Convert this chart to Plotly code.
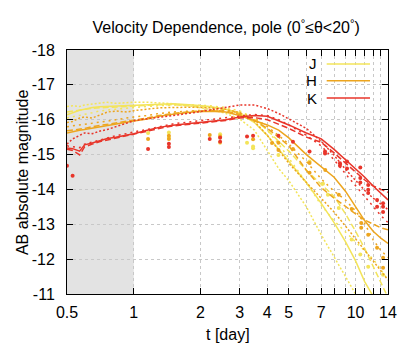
import plotly.graph_objects as go

# ---------------- data ----------------
T = [0.5, 0.53, 0.57, 0.6, 0.65, 0.7, 0.76, 0.83, 0.93, 1.0, 1.15, 1.3, 1.5, 1.85, 2.2,
     2.6, 3.0, 3.5, 4.0, 4.5, 5.0, 6.0, 7.0, 8.0, 9.0, 10.0, 11.0, 12.0, 13.0, 14.0]

J_solid = [-16.14, -16.2, -16.27, -16.3, -16.35, -16.37, -16.38, -16.4, -16.41, -16.42, -16.44, -16.46, -16.46, -16.42, -16.38,
           -16.3, -16.18, -15.92, -15.55, -15.15, -14.8, -14.2, -13.6, -13.05, -12.5, -11.95, -11.35, -10.9, -10.5, -10.2]
J_dotA = [-16.38, -16.4, -16.38, -16.42, -16.45, -16.47, -16.5, -16.47, -16.5, -16.5, -16.5, -16.49, -16.46, -16.38, -16.3,
          -16.18, -16.02, -15.7, -15.1, -14.6, -14.25, -13.5, -12.7, -12.05, -11.5, -11.0, -10.6, -10.3, -10.0, -9.8]
J_dash = [-16.22, -16.25, -16.28, -16.3, -16.33, -16.34, -16.36, -16.38, -16.4, -16.4, -16.42, -16.43, -16.43, -16.4, -16.36,
          -16.3, -16.2, -16.0, -15.7, -15.38, -15.1, -14.55, -14.15, -13.8, -13.3, -12.8, -12.3, -11.8, -11.3, -10.9]
J_dotB = [-16.05, -16.08, -16.12, -16.15, -16.2, -16.25, -16.28, -16.3, -16.33, -16.35, -16.38, -16.4, -16.42, -16.42, -16.4,
          -16.35, -16.25, -16.05, -15.7, -15.3, -14.9, -14.2, -13.55, -13.1, -12.78, -12.5, -12.25, -12.0, -11.7, -11.4]

H_solid = [-15.62, -15.66, -15.7, -15.72, -15.76, -15.8, -15.84, -15.88, -15.93, -15.96, -16.02, -16.1, -16.16, -16.22, -16.24,
           -16.22, -16.12, -15.98, -15.85, -15.7, -15.48, -15.0, -14.65, -14.35, -13.95, -13.5, -13.1, -12.8, -12.6, -12.45]
H_dash = [-15.68, -15.7, -15.72, -15.75, -15.8, -15.83, -15.86, -15.9, -15.95, -15.99, -16.05, -16.12, -16.18, -16.24, -16.26,
          -16.25, -16.15, -15.98, -15.75, -15.5, -15.25, -14.55, -14.05, -13.75, -13.5, -13.3, -13.12, -13.0, -12.9, -12.84]
H_dotA = [-15.92, -15.95, -16.05, -16.08, -16.05, -16.12, -16.22, -16.25, -16.22, -16.26, -16.3, -16.34, -16.35, -16.36, -16.34,
          -16.3, -16.2, -15.95, -15.55, -15.12, -14.75, -14.2, -13.75, -13.35, -12.95, -12.6, -12.25, -11.95, -11.65, -11.4]
H_dotB = [-15.8, -15.82, -15.85, -15.88, -15.9, -15.93, -15.96, -16.0, -16.05, -16.08, -16.12, -16.18, -16.22, -16.26, -16.28,
          -16.27, -16.2, -16.05, -15.8, -15.55, -15.3, -14.8, -14.3, -13.95, -13.7, -13.38, -13.02, -12.55, -12.25, -12.05]

K_solid = [-15.19, -15.17, -15.1, -15.28, -15.33, -15.4, -15.46, -15.5, -15.56, -15.6, -15.7, -15.78, -15.84, -15.9, -15.95,
           -16.0, -16.08, -16.12, -16.1, -15.98, -15.85, -15.62, -15.45, -15.15, -14.85, -14.6, -14.35, -14.1, -13.9, -13.7]
K_dash = [-15.15, -15.12, -14.99, -15.22, -15.3, -15.37, -15.42, -15.47, -15.53, -15.57, -15.67, -15.75, -15.82, -15.88, -15.93,
          -15.98, -16.05, -16.06, -16.0, -15.88, -15.75, -15.5, -15.35, -15.05, -14.75, -14.5, -14.27, -14.1, -14.0, -13.92]
K_dotA = [-15.3, -15.45, -15.55, -15.62, -15.6, -15.67, -15.72, -15.8, -15.9, -15.97, -16.03, -16.08, -16.12, -16.2, -16.28,
          -16.36, -16.42, -16.42, -16.32, -16.18, -16.02, -15.75, -15.38, -14.98, -14.58, -14.25, -13.97, -13.75, -13.58, -13.42]
K_dotB = [-15.25, -15.22, -15.2, -15.3, -15.36, -15.42, -15.48, -15.54, -15.6, -15.65, -15.72, -15.8, -15.88, -15.95, -16.0,
          -16.05, -16.1, -16.15, -16.12, -16.0, -15.85, -15.55, -15.25, -14.85, -14.45, -14.1, -13.8, -13.5, -13.25, -13.05]

J_obs_t = [1.16, 1.44, 1.44, 2.45, 2.45, 3.24, 3.45, 3.45, 4.49, 6.2, 7.13, 7.5, 8.4, 9.6, 10.5, 11.4, 13.3]
J_obs_m = [-15.62, -15.63, -15.48, -15.58, -15.34, -15.34, -15.23, -15.18, -14.99, -14.8, -14.16, -13.85, -13.47, -12.56, -12.13, -11.78, -11.55]

H_obs_t = [1.16, 1.44, 1.44, 2.2, 2.45, 3.45, 4.2, 4.49, 4.49, 5.22, 6.2, 6.2, 7.3, 8.4, 9.6, 10.6, 10.6, 11.4, 12.5, 13.3, 13.3]
H_obs_m = [-15.45, -15.54, -15.45, -15.56, -15.52, -15.44, -15.33, -15.34, -15.13, -15.16, -14.76, -14.48, -14.56, -13.85, -13.44, -13.04, -12.9, -12.7, -12.33, -12.04, -11.75]

K_obs_t = [0.5, 0.53, 1.16, 1.44, 1.44, 2.2, 2.45, 2.45, 3.24, 3.45, 4.49, 5.22, 6.2, 7.28, 7.28, 8.5, 8.5, 9.15, 9.15,
           10.5, 10.5, 10.5, 11.4, 11.4, 11.4, 12.5, 12.5, 13.3, 13.3, 13.3]
K_obs_m = [-14.68, -14.39, -15.16, -15.31, -15.22, -15.45, -15.48, -15.37, -15.52, -15.54, -15.54, -15.37, -15.09, -15.09, -15.03,
           -14.75, -14.68, -14.8, -14.6, -14.63, -14.33, -14.2, -14.13, -13.99, -13.9, -13.7, -13.5, -13.6, -13.35, -13.5]

x_tickvals = [0.5, 1, 2, 3, 4, 5, 6, 7, 8, 9, 10, 11, 12, 13, 14]
x_ticktext = ["0.5", "1", "2", "3", "4", "5", "", "7", "", "", "10", "", "", "", "14"]
y_tickvals = [-18, -17, -16, -15, -14, -13, -12, -11]
y_ticktext = ["-18", "-17", "-16", "-15", "-14", "-13", "-12", "-11"]

band_names = ["J", "H", "K"]
band_colors = ["#f3e45a", "#eda51e", "#e8352a"]
# ---------------------------------------

FONT = "Liberation Sans, Arial, sans-serif"
dash_styles = {"solid": "solid", "dash": "6px,3px", "dotA": "2px,2px", "dotB": "2px,4px"}

fig = go.Figure()

band_lines = [
    [("dotB", J_dotB), ("dash", J_dash), ("solid", J_solid), ("dotA", J_dotA)],
    [("dotB", H_dotB), ("dash", H_dash), ("solid", H_solid), ("dotA", H_dotA)],
    [("dotB", K_dotB), ("dash", K_dash), ("solid", K_solid), ("dotA", K_dotA)],
]
band_obs = [(J_obs_t, J_obs_m), (H_obs_t, H_obs_m), (K_obs_t, K_obs_m)]

for name, color, lines, (ot, om) in zip(band_names, band_colors, band_lines, band_obs):
    for style, vals in lines:
        fig.add_trace(go.Scatter(x=T, y=vals, mode="lines",
                                 line=dict(color=color, width=1.5, dash=dash_styles[style]),
                                 showlegend=False, hoverinfo="skip"))
    fig.add_trace(go.Scatter(x=ot, y=om, mode="markers",
                             marker=dict(color=color, size=4, line=dict(width=0)),
                             showlegend=False, hoverinfo="skip"))

# shaded early-time region
fig.add_shape(type="rect", xref="x", yref="paper", x0=0.5, x1=1, y0=0, y1=1,
              fillcolor="#e3e3e3", line=dict(width=0), layer="between")

# manual legend (label left, line sample right)
leg_y = [0.943, 0.874, 0.803]
for name, color, yy in zip(band_names, band_colors, leg_y):
    fig.add_annotation(xref="paper", yref="paper", x=0.785, y=yy, text=name, showarrow=False,
                       xanchor="right", yanchor="middle", font=dict(size=15, color="black", family=FONT))
    fig.add_shape(type="line", xref="paper", yref="paper", x0=0.809, x1=0.944, y0=yy, y1=yy,
                  line=dict(color=color, width=1.5))

# axis titles placed as annotations
fig.add_annotation(xref="paper", yref="paper", x=0.5, y=-0.168, text="t [day]", showarrow=False,
                   xanchor="center", yanchor="middle", font=dict(size=16, color="black", family=FONT))
fig.add_annotation(xref="paper", yref="paper", x=-0.14, y=0.5, text="AB absolute magnitude", showarrow=False,
                   textangle=-90, xanchor="center", yanchor="middle",
                   font=dict(size=16, color="black", family=FONT))

fig.update_layout(
    width=415, height=346,
    margin=dict(l=67, r=27, t=50, b=52, autoexpand=False),
    paper_bgcolor="white", plot_bgcolor="white",
    font=dict(family=FONT, size=16, color="black"),
    title=dict(text="Velocity Dependence, pole (0<sup>°</sup>≤θ<20<sup>°</sup>)",
               x=0.545, xanchor="center", y=0.92, yanchor="middle",
               font=dict(size=16, family=FONT)),
)

fig.update_xaxes(type="log", range=[-0.30103, 1.146128], automargin=False,
                 tickvals=x_tickvals, ticktext=x_ticktext,
                 ticks="inside", ticklen=6, tickcolor="black", tickwidth=1,
                 ticklabelstandoff=4,
                 showline=True, linecolor="black", linewidth=1, mirror="ticks",
                 showgrid=True, gridcolor="#c8c8c8", griddash="dot", gridwidth=1,
                 zeroline=False, tickfont=dict(size=16))
fig.update_yaxes(range=[-11, -18], automargin=False,
                 tickvals=y_tickvals, ticktext=y_ticktext,
                 ticks="inside", ticklen=6, tickcolor="black", tickwidth=1,
                 ticklabelstandoff=8,
                 showline=True, linecolor="black", linewidth=1, mirror="ticks",
                 showgrid=True, gridcolor="#c8c8c8", griddash="dot", gridwidth=1,
                 zeroline=False, tickfont=dict(size=16))

fig.write_html("out.html",
               config={"displayModeBar": False, "staticPlot": True},
               post_script="document.body.style.margin='0';document.body.style.overflow='hidden';")
